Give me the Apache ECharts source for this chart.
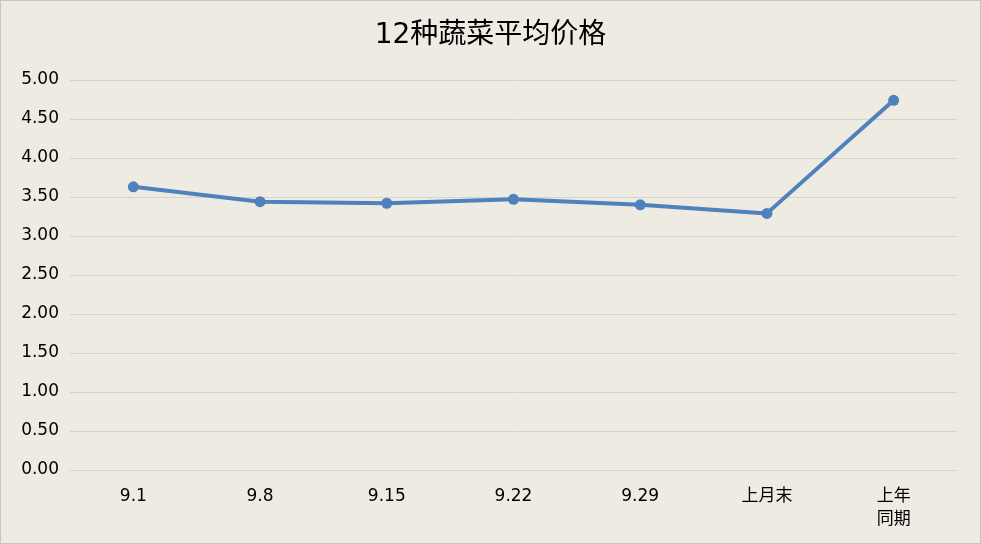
<!DOCTYPE html>
<html>
<head>
    <meta charset="utf-8">
    <title>12种蔬菜平均价格</title>
    <script src="https://cdn.jsdelivr.net/npm/echarts@6/dist/echarts.min.js"></script>
    <style>
        html, body { margin: 0; padding: 0; background: #EEEBE2; }
        #main { width: 979px; height: 542px; border: 1px solid #C8C6C0; }
    </style>
</head>
<body>
    <div id="main"></div>
    <script type="text/javascript">
        // 数据
        var categories = ['9.1', '9.8', '9.15', '9.22', '9.29', '上月末', '上年\n同期'];
        var prices = [3.63, 3.44, 3.42, 3.47, 3.40, 3.29, 4.74];

        var myChart = echarts.init(document.getElementById('main'));

        var option = {
            backgroundColor: '#EEEBE2',
            title: {
                text: '12种蔬菜平均价格',
                left: 'center',
                top: 16,
                textStyle: {
                    fontFamily: 'DejaVu Sans, Noto Sans CJK SC',
                    fontSize: 28,
                    fontWeight: 'normal',
                    color: '#000'
                }
            },
            grid: {
                left: 69,
                right: 23,
                top: 79,
                bottom: 73
            },
            xAxis: {
                type: 'category',
                data: categories,
                axisLine: { show: true, lineStyle: { color: '#D5D3CD', width: 1 } },
                axisTick: { show: false },
                axisLabel: {
                    color: '#000',
                    fontSize: 17,
                    fontFamily: 'DejaVu Sans, Noto Sans CJK SC',
                    margin: 15,
                    lineHeight: 23
                }
            },
            yAxis: {
                type: 'value',
                min: 0,
                max: 5,
                interval: 0.5,
                axisLine: { show: false },
                axisTick: { show: false },
                axisLabel: {
                    color: '#000',
                    fontSize: 17,
                    fontFamily: 'DejaVu Sans',
                    margin: 11,
                    formatter: function (v) { return v.toFixed(2); }
                },
                splitLine: { lineStyle: { color: '#D5D3CD', width: 1 } }
            },
            series: [{
                type: 'line',
                data: prices,
                symbol: 'circle',
                symbolSize: 11,
                itemStyle: { color: '#4F81BD' },
                lineStyle: { color: '#4F81BD', width: 4 },
                animation: false
            }]
        };

        myChart.setOption(option);
    </script>
</body>
</html>
